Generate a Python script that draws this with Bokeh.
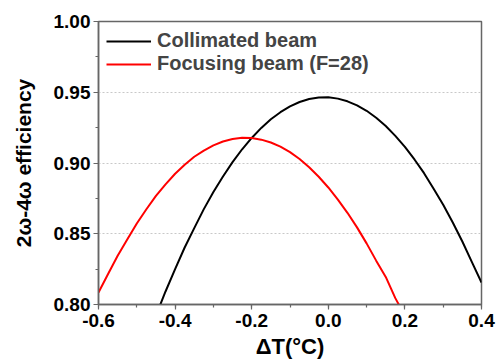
from bokeh.plotting import figure
from bokeh.models import FixedTicker, PrintfTickFormatter, Legend, LegendItem, Range1d
from bokeh.embed import file_html
from bokeh.resources import INLINE

# Collimated beam
x_col = [-0.44, -0.425, -0.40, -0.375, -0.35, -0.325, -0.30, -0.275, -0.25, -0.225,
         -0.20, -0.175, -0.15, -0.125, -0.10, -0.075, -0.05, -0.025, 0.00, 0.025,
         0.05, 0.075, 0.10, 0.125, 0.15, 0.175, 0.20, 0.225, 0.25, 0.275,
         0.30, 0.325, 0.35, 0.375, 0.40]
y_col = [0.799, 0.8092, 0.825, 0.8403, 0.854, 0.8674, 0.8795, 0.8905, 0.9006, 0.9097,
         0.9177, 0.9248, 0.9309, 0.9359, 0.9400, 0.9431, 0.9452, 0.9463, 0.9464, 0.9455,
         0.9436, 0.9407, 0.9369, 0.9320, 0.9261, 0.9192, 0.9114, 0.9025, 0.8928, 0.8818,
         0.8705, 0.8580, 0.8445, 0.8300, 0.8155]

# Focusing beam (F=28)
x_foc = [-0.60, -0.575, -0.55, -0.525, -0.50, -0.475, -0.45, -0.425, -0.40, -0.375,
         -0.35, -0.325, -0.30, -0.275, -0.25, -0.225, -0.20, -0.175, -0.15, -0.125,
         -0.10, -0.075, -0.05, -0.025, 0.00, 0.025, 0.05, 0.075, 0.10, 0.125,
         0.15, 0.175, 0.19]
y_foc = [0.8085, 0.8215, 0.8345, 0.8459, 0.8572, 0.8673, 0.8768, 0.8849, 0.8924, 0.8988,
         0.9044, 0.9088, 0.9125, 0.9152, 0.9169, 0.9178, 0.9176, 0.9165, 0.9145, 0.9116,
         0.9077, 0.9028, 0.8970, 0.8903, 0.8827, 0.8741, 0.8648, 0.8545, 0.8432, 0.8310,
         0.8195, 0.8045, 0.7970]

x_ticks = [-0.6, -0.4, -0.2, 0.0, 0.2, 0.4]
x_minor = [-0.6, -0.5, -0.4, -0.3, -0.2, -0.1, 0.0, 0.1, 0.2, 0.3, 0.4]
y_ticks = [0.80, 0.85, 0.90, 0.95, 1.00]
y_minor = [0.800, 0.825, 0.850, 0.875, 0.900, 0.925, 0.950, 0.975, 1.000]

FONT = "Liberation Sans"
AX = "#666666"

p = figure(width=500, height=364, output_backend="svg", toolbar_location=None,
           x_range=Range1d(-0.6, 0.4), y_range=Range1d(0.80, 1.00),
           min_border_left=98, min_border_right=19, min_border_top=21, min_border_bottom=60)

l1 = p.line(x_col, y_col, line_color="black", line_width=2)
l2 = p.line(x_foc, y_foc, line_color="red", line_width=2)

p.xaxis.ticker = FixedTicker(ticks=x_ticks, minor_ticks=x_minor)
p.yaxis.ticker = FixedTicker(ticks=y_ticks, minor_ticks=y_minor)
p.xaxis.formatter = PrintfTickFormatter(format="%.1f")
p.yaxis.formatter = PrintfTickFormatter(format="%.2f")

for ax in (p.xaxis, p.yaxis):
    ax.axis_line_color = AX
    ax.axis_line_width = 1.5
    ax.major_tick_line_color = AX
    ax.minor_tick_line_color = AX
    ax.major_tick_line_width = 1.2
    ax.minor_tick_line_width = 1.2
    ax.major_tick_out = 5
    ax.major_tick_in = 0
    ax.minor_tick_out = 3
    ax.minor_tick_in = 0
    ax.major_label_text_font = FONT
    ax.major_label_text_font_style = "bold"
    ax.major_label_text_font_size = "19px"
    ax.major_label_text_color = "black"
    ax.axis_label_text_font = FONT
    ax.axis_label_text_font_style = "bold"
    ax.axis_label_text_color = "black"

p.xaxis.axis_label_text_font_size = "22px"
p.yaxis.axis_label_text_font_size = "21px"
p.xaxis.major_label_standoff = 4
p.yaxis.major_label_standoff = 3
p.xaxis.axis_label = "ΔT(°C)"
p.yaxis.axis_label = "2ω-4ω efficiency"
p.xaxis.axis_label_standoff = 4
p.yaxis.axis_label_standoff = 16

p.xgrid.grid_line_color = None
p.ygrid.grid_line_color = "#c8c8c8"
p.ygrid.grid_line_dash = "2 2"
p.ygrid.grid_line_width = 1

p.outline_line_color = AX
p.outline_line_width = 1.5
p.background_fill_color = "white"
p.border_fill_color = "white"

legend = Legend(items=[LegendItem(label="Collimated beam", renderers=[l1]),
                       LegendItem(label="Focusing beam (F=28)", renderers=[l2])],
                location="top_left")
legend.border_line_color = None
legend.background_fill_alpha = 0
legend.label_text_font = FONT
legend.label_text_font_style = "bold"
legend.label_text_font_size = "20px"
legend.glyph_width = 45
legend.glyph_height = 20
legend.label_height = 20
legend.spacing = 0
legend.padding = 2
legend.margin = 8
legend.label_standoff = 6
p.add_layout(legend)

open("out.html", "w").write(file_html(p, INLINE))
